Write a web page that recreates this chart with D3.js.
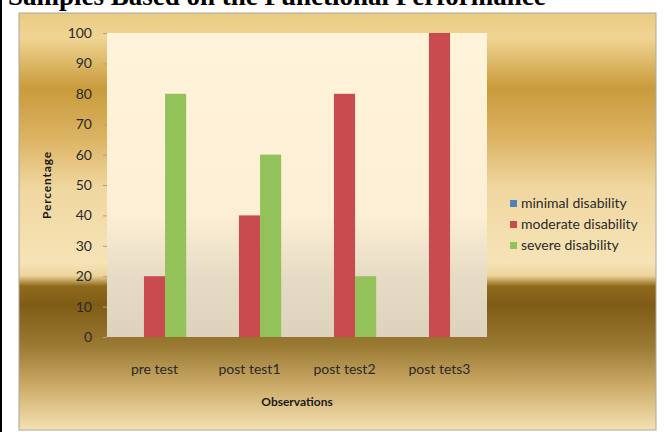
<!DOCTYPE html>
<html>
<head>
<meta charset="utf-8">
<script src="https://cdn.jsdelivr.net/npm/d3@7"></script>
<style>
  body { margin: 0; background: #fff; }
  text { font-family: Lato, "Open Sans", sans-serif; }
</style>
</head>
<body>
<div id="chart"></div>
<script>
// data
var categories = ["pre test", "post test1", "post test2", "post tets3"];
var seriesNames = ["minimal disability", "moderate disability", "severe disability"];
var minimal = [0, 0, 0, 0];
var moderate = [20, 40, 80, 100];
var severe = [80, 60, 20, 0];
var yTicks = [0, 10, 20, 30, 40, 50, 60, 70, 80, 90, 100];
var seriesColors = ["#4f81bd", "#c94a4f", "#93c25a"];

var width = 670, height = 432;
var plot = {left: 107, right: 487, top: 33, bottom: 337};

var svg = d3.select("#chart").append("svg")
    .attr("width", width)
    .attr("height", height);

var defs = svg.append("defs");

// gold background of the chart frame
var bg = defs.append("linearGradient").attr("id", "bg")
    .attr("x1", 0).attr("y1", 0).attr("x2", 0).attr("y2", 1);
[[0, "#e9cb82"], [0.06, "#f0d493"], [0.18, "#c99b3c"], [0.3, "#dcb363"],
 [0.42, "#f0d7a0"], [0.6, "#f6e3b6"], [0.63, "#eed39a"], [0.655, "#8f6a1c"],
 [0.7, "#7f5c16"], [0.8, "#9b7a34"], [0.9, "#cfae6c"], [1, "#f5e1b2"]]
  .forEach(function(s) { bg.append("stop").attr("offset", s[0]).attr("stop-color", s[1]); });

var pbg = defs.append("linearGradient").attr("id", "pbg")
    .attr("x1", 0).attr("y1", 0).attr("x2", 0).attr("y2", 1);
[[0, "#fff3da"], [0.6, "#fcefd5"], [0.8, "#e6dbc4"], [1, "#ddd2bb"]]
  .forEach(function(s) { pbg.append("stop").attr("offset", s[0]).attr("stop-color", s[1]); });

// page edge line
svg.append("rect").attr("x", 0).attr("y", 0).attr("width", 2).attr("height", height).attr("fill", "#000");

// title, cut at the top like in the scan
svg.append("text")
    .attr("x", 8).attr("y", 5)
    .style("font-family", "'Liberation Serif', 'Times New Roman', serif")
    .style("font-weight", "bold")
    .style("font-size", "27px")
    .attr("fill", "#000")
    .text("Samples Based on the Functional Performance");

svg.append("rect")
    .attr("x", 19).attr("y", 13)
    .attr("width", 637).attr("height", 417)
    .attr("fill", "url(#bg)")
    .attr("stroke", "#a8a8a0").attr("stroke-width", 1);

svg.append("rect")
    .attr("x", plot.left).attr("y", plot.top)
    .attr("width", plot.right - plot.left).attr("height", plot.bottom - plot.top)
    .attr("fill", "url(#pbg)");

var x0 = d3.scaleBand().domain(categories).range([plot.left, plot.right]);
var bw = x0.bandwidth() / (seriesNames.length + 1.5);
var x1 = d3.scaleBand().domain(seriesNames)
    .range([x0.bandwidth() / 2 - bw * 1.5, x0.bandwidth() / 2 + bw * 1.5]);
var y = d3.scaleLinear().domain([0, 100]).range([plot.bottom, plot.top]);

var yAxis = svg.append("g")
    .attr("transform", "translate(" + plot.left + ",0)")
    .call(d3.axisLeft(y).tickValues(yTicks).tickSize(4).tickPadding(11));
yAxis.select(".domain").remove();
yAxis.selectAll("line").attr("stroke", "#b0a080");
yAxis.selectAll("text").style("font-size", "14px").attr("fill", "#2a2a2a");

var rows = categories.map(function(c, i) {
  return {cat: c, vals: [minimal[i], moderate[i], severe[i]]};
});

var groups = svg.selectAll("g.grp").data(rows).enter().append("g")
    .attr("class", "grp")
    .attr("transform", function(d) { return "translate(" + x0(d.cat) + ",0)"; });

groups.selectAll("rect").data(function(d) {
  return d.vals.map(function(v, j) { return {name: seriesNames[j], v: v, c: seriesColors[j]}; });
}).enter().append("rect")
    .attr("x", function(d) { return x1(d.name); })
    .attr("width", x1.bandwidth())
    .attr("y", function(d) { return y(d.v); })
    .attr("height", function(d) { return y(0) - y(d.v); })
    .attr("fill", function(d) { return d.c; });

// category labels
svg.selectAll("text.cat").data(categories).enter().append("text")
    .attr("class", "cat")
    .attr("x", function(d) { return x0(d) + x0.bandwidth() / 2; })
    .attr("y", 374)
    .attr("text-anchor", "middle")
    .style("font-size", "14px")
    .attr("fill", "#2a2a2a")
    .text(function(d) { return d; });

svg.append("text")
    .attr("x", (plot.left + plot.right) / 2).attr("y", 406)
    .attr("text-anchor", "middle")
    .style("font-size", "12px").style("font-weight", "bold")
    .attr("fill", "#1a1a1a")
    .text("Observations");

svg.append("text")
    .attr("transform", "translate(51," + ((plot.top + plot.bottom) / 2) + ") rotate(-90)")
    .attr("text-anchor", "middle")
    .style("font-size", "12px").style("font-weight", "bold")
    .style("letter-spacing", "0.8px")
    .attr("fill", "#1a1a1a")
    .text("Percentage");

// legend
var leg = svg.selectAll("g.leg").data(seriesNames).enter().append("g")
    .attr("class", "leg")
    .attr("transform", function(d, i) { return "translate(510," + (205 + i * 21) + ")"; });
leg.append("rect").attr("x", 0).attr("y", -5).attr("width", 7).attr("height", 7)
    .attr("fill", function(d, i) { return seriesColors[i]; });
leg.append("text").attr("x", 11).attr("y", 3)
    .style("font-size", "14px")
    .attr("fill", "#2a2a2a")
    .text(function(d) { return d; });
</script>
</body>
</html>
